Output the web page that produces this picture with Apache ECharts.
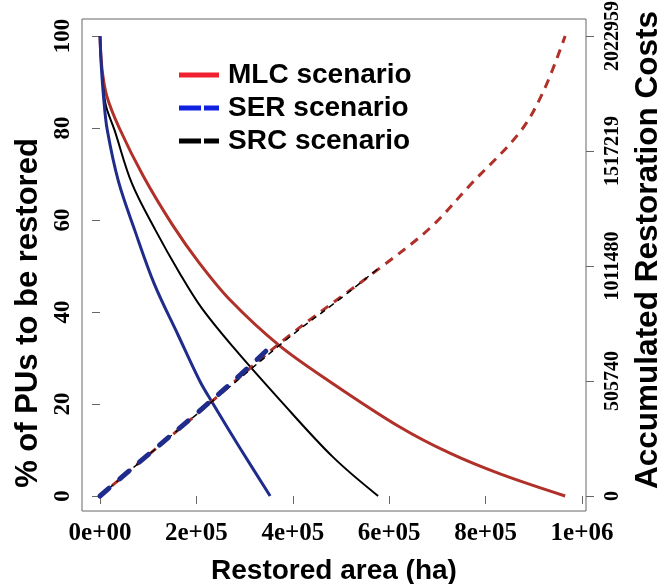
<!DOCTYPE html>
<html>
<head>
<meta charset="utf-8">
<script src="https://cdn.jsdelivr.net/npm/echarts@6/dist/echarts.min.js"></script>
<style>html,body{margin:0;padding:0;background:#fff;}#c{width:668px;height:584px;}</style>
</head>
<body>
<div id="c"></div>
<script>
// ---- data ----
const mlcArea = [0, 4000, 14000, 40000, 90000, 150000, 205000, 270000, 371000, 478000, 622000, 726000, 830000, 965000];
const mlcPct  = [100, 93, 87, 80, 69.5, 59, 50.8, 42.6, 32.8, 24.8, 15, 9.3, 4.8, 0];
const serArea = [0, 3000, 8000, 15000, 38000, 72000, 113000, 162000, 207000, 232000, 290000, 353000];
const serPct  = [100, 93, 86, 79.6, 68.5, 57.8, 46, 35, 25, 20.5, 10.5, 0];
const srcArea = [0, 4000, 12000, 30000, 66000, 115000, 165000, 210000, 276000, 373000, 483000, 577000];
const srcPct  = [100, 92, 85, 79.6, 68, 57.8, 48.5, 41, 32.4, 20.9, 8.5, 0];

const mlcCostArea = [0, 100000, 199000, 386000, 581000, 685000, 768000, 871000, 920000, 965000];
const mlcCost     = [0, 180000, 356000, 694000, 1003000, 1179000, 1368000, 1600000, 1780000, 2022959];
const serCostArea = [0, 50000, 100000, 200000, 300000, 353000];
const serCost     = [0, 92000, 182000, 362000, 550000, 655000];
const srcCostArea = [0, 100000, 200000, 300000, 400000, 500000, 581000];
const srcCost     = [0, 180000, 358000, 535000, 710000, 870000, 1007000];

const xTickValues = [0, 200000, 400000, 600000, 800000, 1000000];
const xTickLabels = ['0e+00', '2e+05', '4e+05', '6e+05', '8e+05', '1e+06'];
const yTickValues = [0, 20, 40, 60, 80, 100];
const costTickValues = [0, 505740, 1011480, 1517219, 2022959];

const legendNames = ['MLC scenario', 'SER scenario', 'SRC scenario'];

// ---- helpers ----
const pairs = (xs, ys) => xs.map((x, i) => [x, ys[i]]);
const PCT_TO_COST = 2022959 / 100;
const yMin = -3.261, yMax = 103.696;

const tickFont = {fontFamily: 'Liberation Serif', fontWeight: 'bold', color: '#000'};
const titleFont = {fontFamily: 'Liberation Sans', fontWeight: 'bold', color: '#000'};

const solidIcon = 'path://M0,0h40v5h-40z';
const gapIcon = 'path://M0,0h22v5h-22zM25,0h15v5h-15z';

const chart = echarts.init(document.getElementById('c'), null, {renderer: 'canvas'});
chart.setOption({
  animation: false,
  backgroundColor: '#fff',
  grid: {left: 82, right: 82, top: 19, bottom: 73, show: true, borderColor: '#666', borderWidth: 1,
    containLabel: false, outerBoundsMode: 'none'},
  legend: {
    orient: 'vertical', left: 174, top: 56, itemWidth: 40, itemHeight: 5, itemGap: 5,
    textStyle: {...titleFont, fontSize: 28, lineHeight: 28, padding: [0, 0, 0, 4]},
    data: [
      {name: legendNames[0], icon: solidIcon, itemStyle: {color: '#f02030'}},
      {name: legendNames[1], icon: gapIcon, itemStyle: {color: '#1020e0'}},
      {name: legendNames[2], icon: gapIcon, itemStyle: {color: '#000'}}
    ]
  },
  xAxis: {
    type: 'value', min: -37344, max: 1008299,
    name: 'Restored area (ha)', nameLocation: 'middle', nameGap: 46, nameTextStyle: {...titleFont, fontSize: 28},
    axisLine: {show: false},
    splitLine: {show: false},
    axisTick: {show: true, length: 8, lineStyle: {color: '#666'}, customValues: xTickValues},
    axisLabel: {...tickFont, fontSize: 25, margin: 10, customValues: xTickValues,
      formatter: v => xTickLabels[xTickValues.indexOf(v)] ?? ''}
  },
  yAxis: [
    {
      type: 'value', min: yMin, max: yMax, position: 'left',
      name: '% of PUs to be restored', nameLocation: 'middle', nameRotate: 90, nameGap: 38,
      nameTextStyle: {...titleFont, fontSize: 31, padding: [0, 96, 0, 0]},
      axisLine: {show: false}, splitLine: {show: false},
      axisTick: {show: true, length: 8, lineStyle: {color: '#666'}, customValues: yTickValues},
      axisLabel: {...tickFont, fontSize: 23, rotate: 90, margin: 7, customValues: yTickValues}
    },
    {
      type: 'value', min: yMin * PCT_TO_COST, max: yMax * PCT_TO_COST, position: 'right',
      name: 'Accumulated Restoration Costs', nameLocation: 'middle', nameRotate: 90, nameGap: 46,
      nameTextStyle: {...titleFont, fontSize: 31.5, padding: [0, 0, 0, 30]},
      axisLine: {show: false}, splitLine: {show: false},
      axisTick: {show: true, length: 8, lineStyle: {color: '#666'}, customValues: costTickValues},
      axisLabel: {...tickFont, fontSize: 20, rotate: 90, margin: 17, customValues: costTickValues,
        formatter: v => String(v)}
    }
  ],
  series: [
    {name: legendNames[0], type: 'line', data: pairs(mlcArea, mlcPct), symbol: 'none', smooth: 0.35, lineStyle: {color: '#b0302a', width: 3}, itemStyle: {color: '#b0302a'}, z: 3},
    {name: legendNames[2], type: 'line', data: pairs(srcArea, srcPct), symbol: 'none', smooth: 0.35, lineStyle: {color: '#000', width: 2}, itemStyle: {color: '#000'}, z: 3},
    {name: legendNames[1], type: 'line', data: pairs(serArea, serPct), symbol: 'none', smooth: 0.35, lineStyle: {color: '#202c8c', width: 3}, itemStyle: {color: '#202c8c'}, z: 3},
    {name: 'MLC cost', type: 'line', yAxisIndex: 1, data: pairs(mlcCostArea, mlcCost), symbol: 'none', smooth: 0.35, lineStyle: {color: '#b0302a', width: 3, type: [9, 7]}, z: 4},
    {name: 'SER cost', type: 'line', yAxisIndex: 1, data: pairs(serCostArea, serCost), symbol: 'none', smooth: 0.35, lineStyle: {color: '#202c8c', width: 5, type: [12, 14], cap: 'round'}, z: 5},
    {name: 'SRC cost', type: 'line', yAxisIndex: 1, data: pairs(srcCostArea, srcCost), symbol: 'none', smooth: 0.35, lineStyle: {color: '#000', width: 1.5, type: [6, 5]}, z: 4}
  ]
});
</script>
</body>
</html>
